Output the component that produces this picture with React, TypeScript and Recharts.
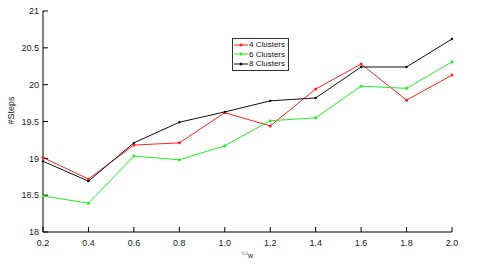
import React from 'react'
import { Line, LineChart, XAxis, YAxis } from 'recharts'

const omegaW = [0.2, 0.4, 0.6, 0.8, 1.0, 1.2, 1.4, 1.6, 1.8, 2.0]
const clusters4 = [19.01, 18.72, 19.18, 19.21, 19.62, 19.44, 19.94, 20.28, 19.79, 20.13]
const clusters6 = [18.49, 18.39, 19.03, 18.98, 19.17, 19.51, 19.55, 19.98, 19.95, 20.31]
const clusters8 = [18.96, 18.69, 19.21, 19.49, 19.63, 19.78, 19.82, 20.24, 20.24, 20.62]
const yTicks = [18, 18.5, 19, 19.5, 20, 20.5, 21]

const seriesNames = ['4 Clusters', '6 Clusters', '8 Clusters']
const seriesColors = ['#ff2020', '#22ee22', '#111111']

const data = omegaW.map((w, i) => ({
  w,
  c4: clusters4[i],
  c6: clusters6[i],
  c8: clusters8[i],
}))

const font = 'Liberation Sans, Arial, sans-serif'

function LegendBox() {
  return (
    <div
      style={{
        position: 'absolute',
        left: 232,
        top: 38,
        border: '1px solid #333',
        background: '#fff',
        padding: '1px 3px 1px 1px',
        fontFamily: font,
        fontSize: 8,
        lineHeight: '9.5px',
        color: '#111',
      }}
    >
      {seriesNames.map((name, i) => (
        <div key={name} style={{ display: 'flex', alignItems: 'center', whiteSpace: 'nowrap' }}>
          <svg width={14} height={8} style={{ marginRight: 1 }}>
            <line x1={0} y1={4} x2={14} y2={4} stroke={seriesColors[i]} strokeWidth={1} />
            <circle cx={7} cy={4} r={1.5} fill={seriesColors[i]} />
          </svg>
          {name}
        </div>
      ))}
    </div>
  )
}

function OmegaLabel(props: any) {
  const vb = props.viewBox || {}
  const cx = vb.x + vb.width / 2
  return (
    <text x={cx} y={255} textAnchor="middle" fill="#999" fontFamily={font} fontSize={8}>
      ω<tspan dy={3} fontSize={7} fill="#223">w</tspan>
    </text>
  )
}

export default function App() {
  return (
    <div style={{ position: 'absolute', left: 0, top: 0, width: 480, height: 267, background: '#fff' }}>
      <LineChart width={480} height={267} data={data} margin={{ top: 11, right: 28, bottom: 8, left: 0 }}>
        <XAxis
          dataKey="w"
          type="number"
          domain={[0.2, 2.0]}
          ticks={omegaW}
          tickFormatter={(v: number) => v.toFixed(1)}
          height={27}
          tickSize={-5}
          tickMargin={13}
          axisLine={{ stroke: '#000' }}
          tickLine={{ stroke: '#000' }}
          tick={{ fill: '#222', fontSize: 9, fontFamily: font }}
          label={<OmegaLabel />}
        />
        <YAxis
          type="number"
          domain={[18, 21]}
          ticks={yTicks}
          width={43}
          tickSize={-5}
          tickMargin={9}
          axisLine={{ stroke: '#000' }}
          tickLine={{ stroke: '#000' }}
          tick={{ fill: '#222', fontSize: 9, fontFamily: font }}
          label={{ value: '#Steps', angle: -90, position: 'insideLeft', offset: 11, dy: 3, fill: '#222', fontSize: 9, fontFamily: font }}
        />
        <Line dataKey="c4" name={seriesNames[0]} stroke={seriesColors[0]} strokeWidth={1} dot={{ r: 1.5, fill: seriesColors[0], strokeWidth: 0 }} isAnimationActive={false} />
        <Line dataKey="c6" name={seriesNames[1]} stroke={seriesColors[1]} strokeWidth={1} dot={{ r: 1.5, fill: seriesColors[1], strokeWidth: 0 }} isAnimationActive={false} />
        <Line dataKey="c8" name={seriesNames[2]} stroke={seriesColors[2]} strokeWidth={1} dot={{ r: 1.2, fill: seriesColors[2], strokeWidth: 0 }} isAnimationActive={false} />
      </LineChart>
      <LegendBox />
    </div>
  )
}
